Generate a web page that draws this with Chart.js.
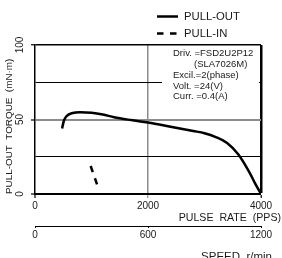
<!DOCTYPE html>
<html><head><meta charset="utf-8">
<script src="https://cdn.jsdelivr.net/npm/chart.js@4.4.1/dist/chart.umd.min.js"></script>
<style>html,body{margin:0;padding:0;background:#fff;overflow:hidden}#wrap{width:282px;height:258px}</style>
</head><body><div id="wrap"><canvas id="c" width="282" height="258"></canvas></div>
<script>
// ---- data ----
const pulseRate     = [480, 510, 560, 650, 800, 1000, 1200, 1400, 1700, 2000, 2400, 2800, 3000, 3200, 3400, 3600, 3800, 3900, 4000];
const pullOutTorque = [44, 49, 52.3, 54.2, 54.9, 54.6, 53.4, 51.5, 49.6, 48, 45.2, 42.3, 40.8, 38.2, 34.2, 26.5, 14.2, 6.8, 0];
const pullInRate    = [985, 1115];
const pullInTorque  = [18.8, 4.6];
const pulseTicks    = [0, 2000, 4000];
const torqueTicks   = [0, 25, 50, 75, 100];
const torqueLabels  = [0, 50, 100];
const speedTicks    = [0, 600, 1200];
const seriesNames   = ['PULL-OUT', 'PULL-IN'];
const noteLines     = ['Driv. =FSD2U2P12', '(SLA7026M)', 'Excil.=2(phase)', 'Volt. =24(V)', 'Curr. =0.4(A)'];
const yTitle = 'PULL-OUT  TORQUE  (mN\u00B7m)';
const xTitle = 'PULSE  RATE  (PPS)';
const x2Title = 'SPEED  r/min';

const FONT = "'Liberation Sans', Arial, sans-serif";
const TXT = '#1a1a1a';
const GRAY = '#8c8c8c';

const toPts = (xs, ys) => xs.map((x, i) => ({x: x, y: ys[i]}));

const decor = {
  id: 'decor',
  beforeDatasetsDraw(chart) {
    const ctx = chart.ctx, a = chart.chartArea;
    ctx.save();
    ctx.fillStyle = '#fff';
    ctx.fillRect(162, a.top + 1, a.right - 2 - 162, 104 - a.top);
    ctx.fillStyle = TXT;
    ctx.font = '9.5px ' + FONT;
    ctx.textBaseline = 'middle';
    ctx.textAlign = 'left';
    const ys = [53.5, 64.3, 75.1, 85.9, 96.7];
    noteLines.forEach((t, i) => ctx.fillText(t, i === 1 ? 194 : 173, ys[i]));
    ctx.restore();
  },
  afterDraw(chart) {
    const ctx = chart.ctx;
    ctx.save();
    const ds = chart.data.datasets;
    const rows = [16.5, 33.5];
    ds.forEach((d, i) => {
      ctx.beginPath();
      ctx.strokeStyle = '#000';
      ctx.lineWidth = 2.5;
      ctx.setLineDash(d.borderDash || []);
      ctx.moveTo(157, rows[i]);
      ctx.lineTo(178, rows[i]);
      ctx.stroke();
      ctx.setLineDash([]);
      ctx.fillStyle = TXT;
      ctx.font = '11.3px ' + FONT;
      ctx.textBaseline = 'middle';
      ctx.textAlign = 'left';
      ctx.fillText(d.label, 184, rows[i] + 0.5);
    });
    ctx.fillStyle = TXT;
    ctx.textAlign = 'right';
    ctx.textBaseline = 'middle';
    ctx.font = '10.6px ' + FONT;
    ctx.fillText(xTitle, 281, 218);
    ctx.font = '11.5px ' + FONT;
    ctx.fillText(x2Title, 272, 256.5);
    ctx.restore();
  }
};

new Chart(document.getElementById('c'), {
  type: 'line',
  data: {
    datasets: [
      {label: seriesNames[0], data: toPts(pulseRate, pullOutTorque), borderColor: '#000', borderWidth: 2.5,
       pointRadius: 0, cubicInterpolationMode: 'monotone', fill: false, xAxisID: 'x', yAxisID: 'y'},
      {label: seriesNames[1], data: toPts(pullInRate, pullInTorque), borderColor: '#000', borderWidth: 2.5,
       borderDash: [6.5, 6.5], pointRadius: 0, fill: false, xAxisID: 'x', yAxisID: 'y'}
    ]
  },
  options: {
    responsive: false,
    devicePixelRatio: 1,
    animation: false,
    events: [],
    layout: {padding: {top: 45, right: 21, left: 0, bottom: 0}},
    plugins: {legend: {display: false}, tooltip: {enabled: false}},
    scales: {
      x: {
        type: 'linear', position: 'bottom', min: 0, max: 4000,
        afterBuildTicks: s => { s.ticks = pulseTicks.map(v => ({value: v})); },
        afterFit: s => { s.height = 32; },
        ticks: {font: {size: 10, family: FONT}, color: TXT, padding: 2, maxRotation: 0, callback: v => String(v)},
        grid: {
          color: c => c.tick && c.tick.value === 2000 ? GRAY : '#000',
          lineWidth: c => !c.tick ? 0 : (c.tick.value === 0 ? 0 : (c.tick.value === 2000 ? 1.5 : 2.5)),
          tickColor: c => c.tick && c.tick.value === 2000 ? GRAY : '#000',
          tickWidth: 1.2, tickLength: 4
        },
        border: {display: true, color: '#000', width: 2}
      },
      x2: {
        type: 'linear', position: 'bottom', min: 0, max: 1200,
        afterBuildTicks: s => { s.ticks = speedTicks.map(v => ({value: v})); },
        afterFit: s => { s.height = 32; },
        ticks: {font: {size: 10, family: FONT}, color: TXT, padding: 1, maxRotation: 0, callback: v => String(v)},
        grid: {drawOnChartArea: false, color: '#000', tickLength: 2, tickWidth: 1},
        border: {display: true, color: '#000', width: 1}
      },
      y: {
        type: 'linear', position: 'left', min: 0, max: 100,
        afterBuildTicks: s => { s.ticks = torqueTicks.map(v => ({value: v})); },
        afterFit: s => { s.width = 35; },
        ticks: {font: {size: 10, family: FONT}, color: TXT, minRotation: 90, maxRotation: 90,
                crossAlign: 'center', padding: 2,
                callback: v => torqueLabels.includes(v) ? String(v) : ''},
        grid: {
          color: c => c.tick && c.tick.value === 50 ? GRAY : '#000',
          lineWidth: c => { if (!c.tick) return 0; const v = c.tick.value; return v === 0 ? 0 : v === 50 ? 2 : v === 100 ? 1.5 : 1; },
          tickColor: c => c.tick && torqueLabels.includes(c.tick.value) ? '#000' : 'rgba(0,0,0,0)',
          tickWidth: 1.2, tickLength: 4
        },
        border: {display: true, color: '#000', width: 1.5},
        title: {display: true, text: yTitle, align: 'start', color: TXT,
                font: {size: 9.9, family: FONT}, padding: {top: 3, bottom: 0}}
      }
    }
  },
  plugins: [decor]
});
</script>
</body></html>
